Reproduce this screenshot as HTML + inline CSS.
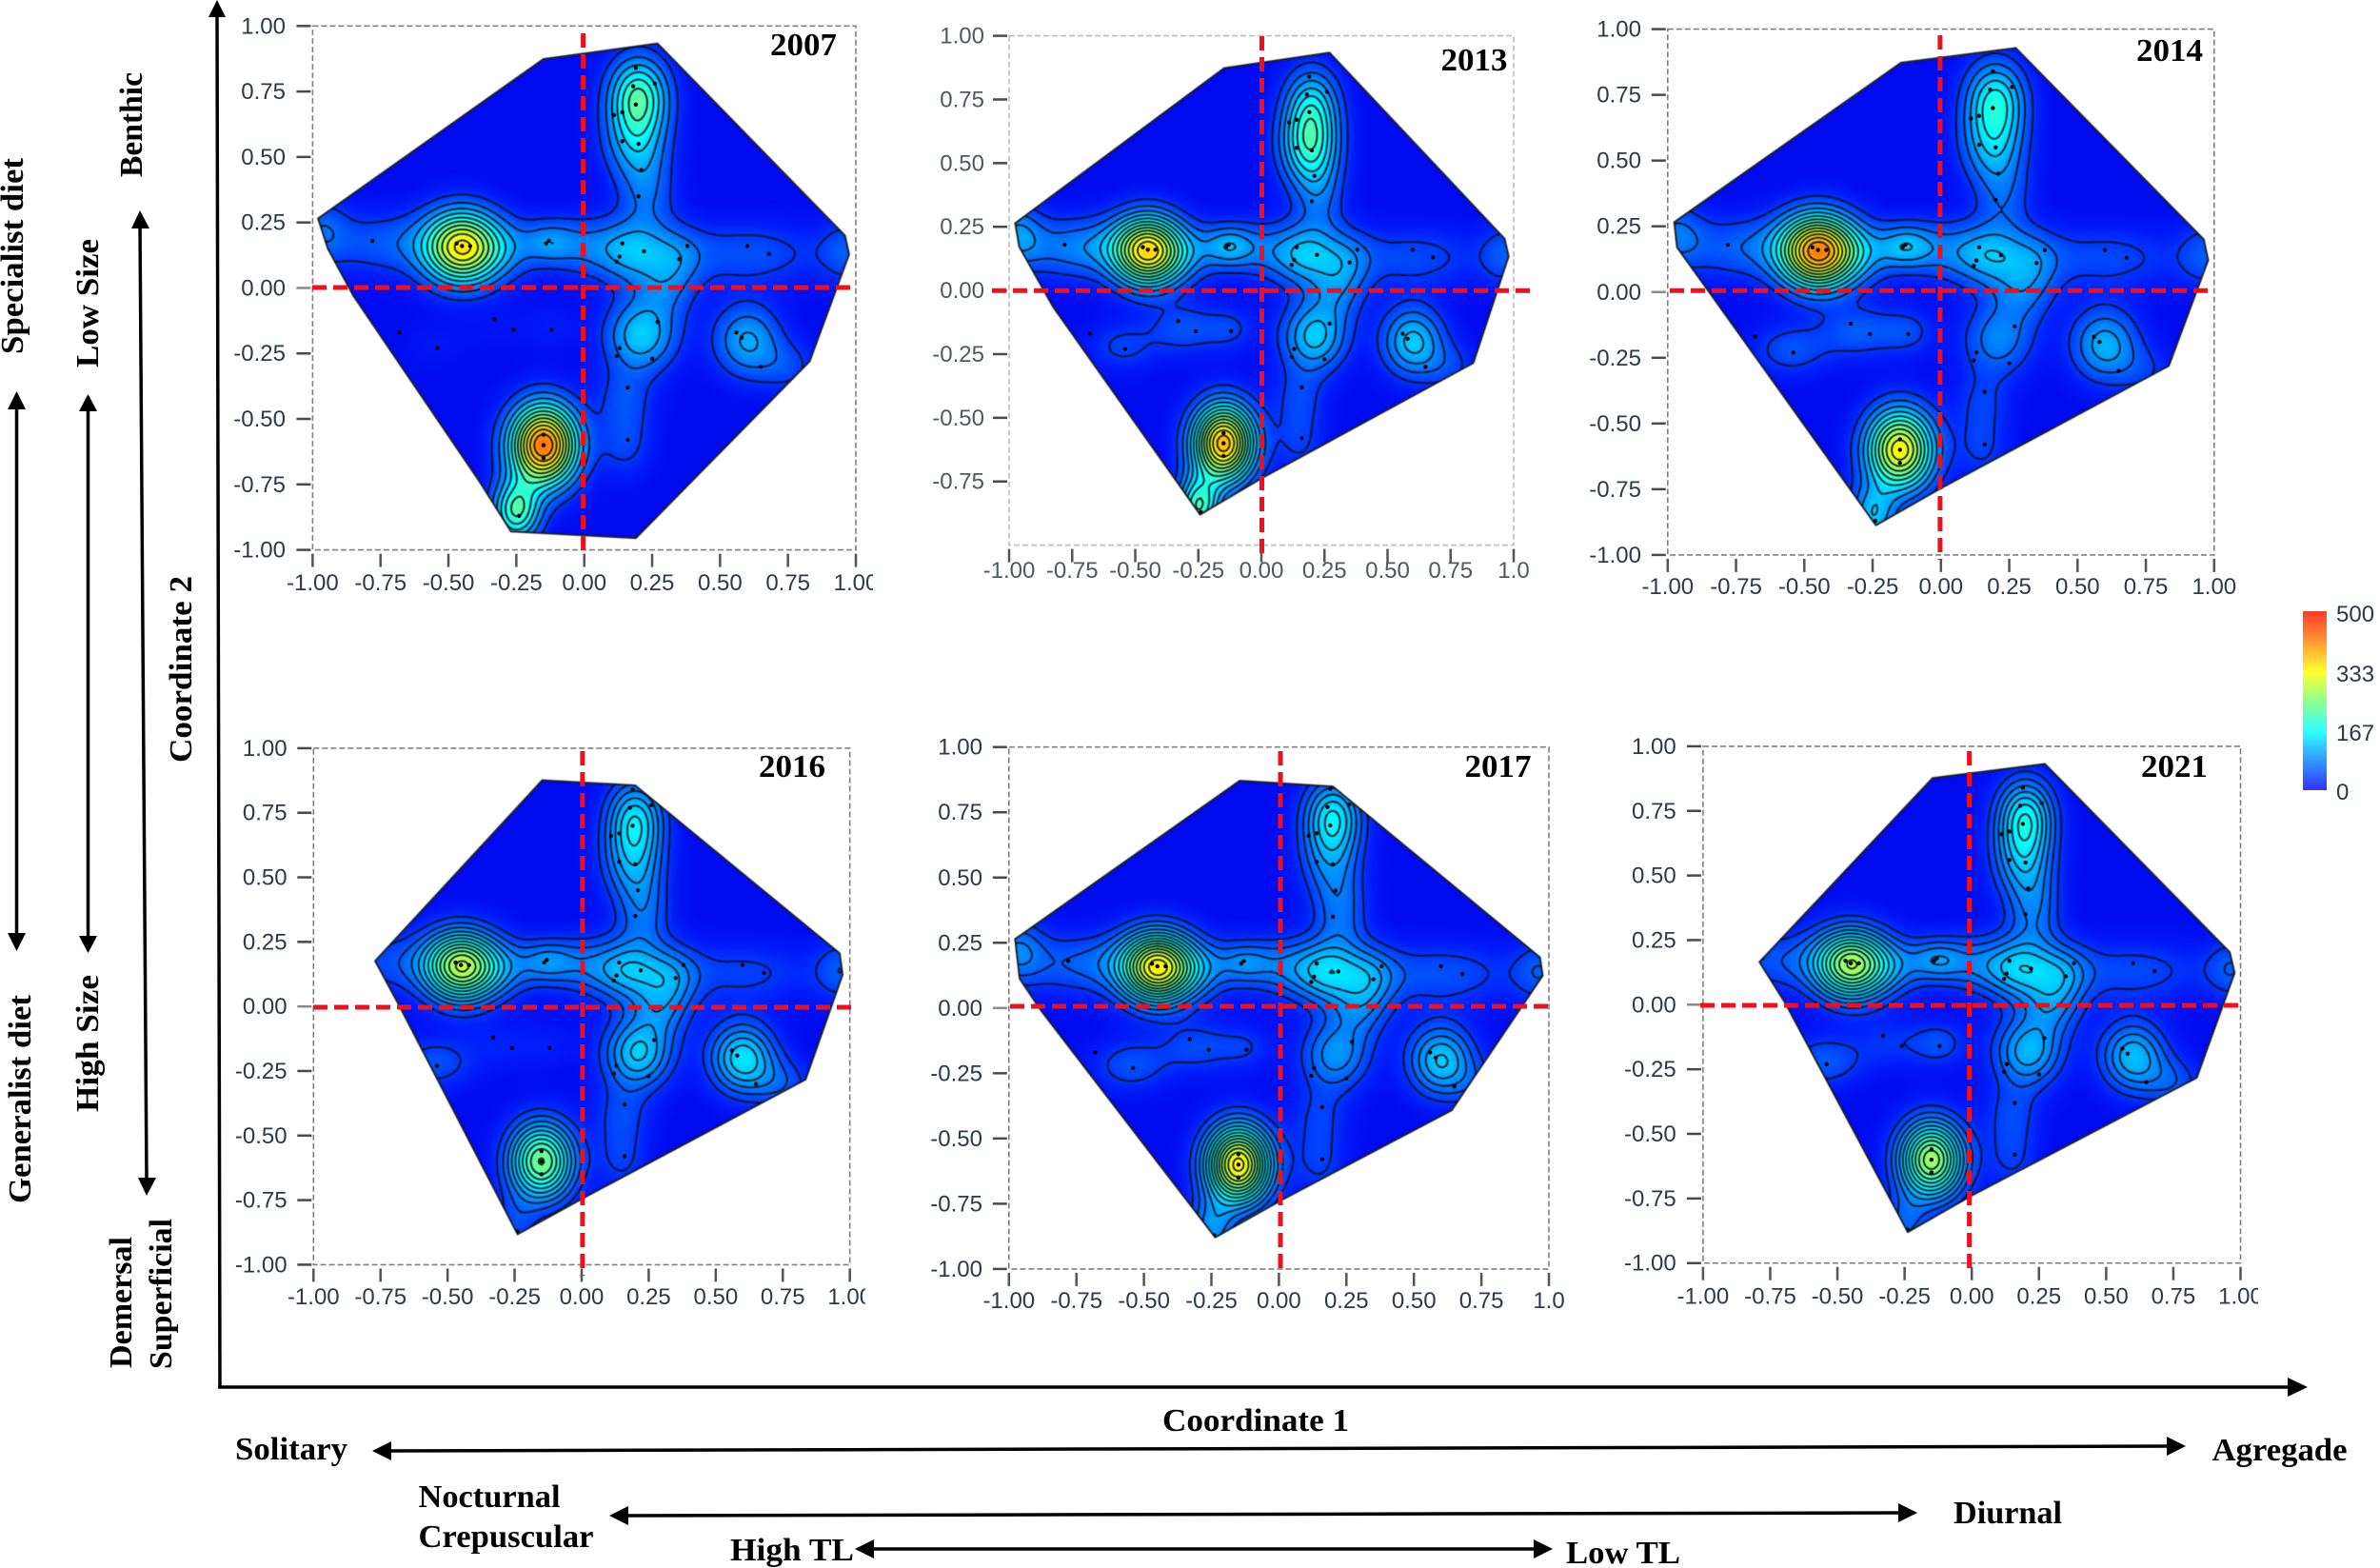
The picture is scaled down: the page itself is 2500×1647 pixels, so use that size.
<!DOCTYPE html>
<html lang="en">
<head>
<meta charset="utf-8">
<title>Kernel density functional space by year</title>
<style>
html,body{margin:0;padding:0;background:#fff;}
#stage{position:relative;width:2500px;height:1647px;overflow:hidden;background:#fff;}
#heat,#overlay{position:absolute;left:0;top:0;}
.serif{font-family:"Liberation Serif",serif;font-weight:bold;font-size:34px;fill:#000;}
.tick{font-family:"Liberation Sans",sans-serif;font-size:24px;fill:#2c3a48;}
</style>
</head>
<body>
<div id="stage">
<canvas id="heat" width="2500" height="1647"></canvas>
<svg id="overlay" width="2500" height="1647" viewBox="0 0 2500 1647" xmlns="http://www.w3.org/2000/svg">
<defs>
<linearGradient id="cbar" x1="0" y1="0" x2="0" y2="1">
<stop offset="0" stop-color="#ff3a30"/><stop offset="0.17" stop-color="#ff9a30"/><stop offset="0.34" stop-color="#ffff30"/><stop offset="0.5" stop-color="#90ff90"/><stop offset="0.67" stop-color="#30ffff"/><stop offset="0.85" stop-color="#3090ff"/><stop offset="1" stop-color="#3030ff"/>
</linearGradient>
<filter id="soft" x="-5%" y="-5%" width="110%" height="110%"><feGaussianBlur stdDeviation="0.55"/></filter>
</defs>
<g id="panels"></g>

<g stroke="#000" fill="#000">
<line x1="228" y1="14" x2="231" y2="1458" stroke-width="3.5"/>
<polygon points="228,0 219,18 237,18" stroke="none"/>
<line x1="229" y1="1457" x2="2405" y2="1457" stroke-width="3.5"/>
<polygon points="2424,1457 2403,1447 2403,1467" stroke="none"/>
</g>

<g stroke="#000" fill="#000">
<g><line x1="17.5" y1="425" x2="17.5" y2="985" stroke-width="3.5"/><polygon points="17.5,411 8,430 27,430" stroke="none"/><polygon points="17.5,999 8,980 27,980" stroke="none"/></g>
<g><line x1="92.5" y1="425" x2="92.5" y2="985" stroke-width="3.5"/><polygon points="92.5,414 83,432 102,432" stroke="none"/><polygon points="92.5,1001 83,983 102,983" stroke="none"/></g>
<g><line x1="147" y1="235" x2="154" y2="1240" stroke-width="3.5"/><polygon points="147,221 138,240 157,240" stroke="none"/><polygon points="154,1256 145,1237 164,1237" stroke="none"/></g>
<g><line x1="405" y1="1524" x2="2282" y2="1519" stroke-width="3.5"/><polygon points="391,1524 411,1514 411,1534" stroke="none"/><polygon points="2296,1519 2276,1509 2276,1529" stroke="none"/></g>
<g><line x1="655" y1="1592" x2="2000" y2="1589" stroke-width="3.5"/><polygon points="640,1592 660,1582 660,1602" stroke="none"/><polygon points="2014,1589 1994,1579 1994,1599" stroke="none"/></g>
<g><line x1="912" y1="1627" x2="1617" y2="1627" stroke-width="3.5"/><polygon points="898,1627 918,1617 918,1637" stroke="none"/><polygon points="1631,1627 1611,1617 1611,1637" stroke="none"/></g>
</g>

<g>
<text class="serif" transform="translate(24,372) rotate(-90)" textLength="206" lengthAdjust="spacingAndGlyphs">Specialist diet</text>
<text class="serif" transform="translate(32,1264) rotate(-90)" textLength="219" lengthAdjust="spacingAndGlyphs">Generalist diet</text>
<text class="serif" transform="translate(103,386) rotate(-90)" textLength="135" lengthAdjust="spacingAndGlyphs">Low Size</text>
<text class="serif" transform="translate(103,1168) rotate(-90)" textLength="144" lengthAdjust="spacingAndGlyphs">High Size</text>
<text class="serif" transform="translate(149,186) rotate(-90)" textLength="110" lengthAdjust="spacingAndGlyphs">Benthic</text>
<text class="serif" transform="translate(138,1437) rotate(-90)" textLength="138" lengthAdjust="spacingAndGlyphs">Demersal</text>
<text class="serif" transform="translate(180,1438) rotate(-90)" textLength="158" lengthAdjust="spacingAndGlyphs">Superficial</text>
<text class="serif" transform="translate(201,801) rotate(-90)" textLength="196" lengthAdjust="spacingAndGlyphs">Coordinate 2</text>
<text class="serif" x="1221" y="1503" textLength="196" lengthAdjust="spacingAndGlyphs">Coordinate 1</text>
<text class="serif" x="247" y="1533" textLength="118" lengthAdjust="spacingAndGlyphs">Solitary</text>
<text class="serif" x="2323.5" y="1534" textLength="142" lengthAdjust="spacingAndGlyphs">Agregade</text>
<text class="serif" x="439.5" y="1583" textLength="149" lengthAdjust="spacingAndGlyphs">Nocturnal</text>
<text class="serif" x="439.5" y="1625" textLength="184" lengthAdjust="spacingAndGlyphs">Crepuscular</text>
<text class="serif" x="2052" y="1600" textLength="114" lengthAdjust="spacingAndGlyphs">Diurnal</text>
<text class="serif" x="767" y="1639" textLength="130" lengthAdjust="spacingAndGlyphs">High TL</text>
<text class="serif" x="1645" y="1642" textLength="120" lengthAdjust="spacingAndGlyphs">Low TL</text>
</g>

<g>
<rect x="2419" y="642" width="25" height="188" fill="url(#cbar)"/>
<text class="tick" x="2454" y="653">500</text>
<text class="tick" x="2454" y="716">333</text>
<text class="tick" x="2454" y="778">167</text>
<text class="tick" x="2454" y="840">0</text>
</g>
</svg>
</div>

<script>
/* ---------- chart data ---------- */
const years = [2007, 2013, 2014, 2016, 2017, 2021];
const xTickValues = [-1, -0.75, -0.5, -0.25, 0, 0.25, 0.5, 0.75, 1];
const yTickValues = [1, 0.75, 0.5, 0.25, 0, -0.25, -0.5, -0.75, -1];
const contourStart = 45;
const contourStepByYear = [33, 27, 30, 22, 22, 21];
const backgroundDensity = 10;

/* density clusters: centre and kernel bandwidth in coordinate space */
const clusterX = [-0.45,-0.13,0.17,0.20,0.19,0.21,0.60,-0.15,-0.25,-0.72,-0.29,0.00,0.60,0.97,-0.97,0.23,0.30,0.34,-0.30,-0.55,-0.12,0.15,0.15,0.75];
const clusterY = [0.155,0.175,0.14,0.74,0.57,-0.18,-0.20,-0.60,-0.85,0.17,0.15,0.16,0.13,0.14,0.22,0.36,0.00,0.13,-0.15,-0.22,-0.15,-0.42,-0.60,-0.30];
const bandwidthX = [0.095,0.07,0.09,0.075,0.08,0.09,0.085,0.085,0.06,0.17,0.09,0.09,0.20,0.07,0.07,0.07,0.08,0.075,0.10,0.10,0.07,0.075,0.07,0.08];
const bandwidthY = [0.095,0.06,0.085,0.10,0.11,0.095,0.095,0.105,0.08,0.085,0.08,0.08,0.085,0.085,0.085,0.11,0.085,0.08,0.07,0.07,0.06,0.09,0.09,0.07];

/* density of each cluster per year */
const density2007 = [320,70,100,180,110,125,105,430,200,55,50,55,50,50,55,60,55,50,8,10,15,45,40,40];
const density2013 = [325,90,105,110,170,125,125,375,190,80,50,50,45,50,80,55,60,50,50,40,35,40,35,35];
const density2014 = [395,95,100,140,110,80,110,325,115,60,60,55,45,50,60,50,60,50,55,50,40,35,35,30];
const density2016 = [260,65,100,115,95,125,140,235,40,45,55,55,40,50,40,60,65,55,20,50,15,40,35,45];
const density2017 = [310,60,115,130,70,90,125,330,85,60,55,55,50,50,70,60,60,60,45,50,30,35,35,30];
const density2021 = [245,70,110,130,100,110,115,260,55,50,55,55,45,50,40,65,65,60,30,55,45,40,35,45];
const densityByYear = [density2007, density2013, density2014, density2016, density2017, density2021];

/* species points */
const speciesX = [-0.78,-0.13,-0.14,0.14,0.13,0.12,0.22,0.38,0.35,0.60,0.68,-0.33,-0.26,-0.12,-0.68,-0.54,0.20,0.21,0.16,0.16,0.25,0.13,0.12,0.27,0.56,0.58,0.65,0.19,0.26,0.18,0.19,0.14,0.11,0.14,0.20,-0.45,-0.42,-0.47,-0.15,-0.15,-0.15,-0.24];
const speciesY = [0.18,0.18,0.17,0.17,0.12,0.10,0.14,0.16,0.11,0.16,0.13,-0.12,-0.16,-0.16,-0.17,-0.23,0.35,0.45,-0.38,-0.58,-0.27,-0.23,-0.26,-0.13,-0.17,-0.19,-0.30,0.84,0.78,0.77,0.70,0.67,0.66,0.56,0.55,0.16,0.16,0.17,-0.56,-0.60,-0.65,-0.87];

/* convex hull per year */
const hullX2007 = [-0.98,-0.15,0.27,0.96,0.975,0.83,0.19,-0.27,-0.385,-0.85,-0.944];
const hullY2007 = [0.265,0.874,0.933,0.20,0.128,-0.28,-0.955,-0.93,-0.74,-0.03,0.15];
const hullX2013 = [-0.976,-0.148,0.27,0.964,0.98,0.84,0,-0.243,-0.826,-0.96];
const hullY2013 = [0.264,0.873,0.934,0.203,0.134,-0.285,-0.738,-0.88,-0.064,0.172];
const hullX2014 = [-0.976,-0.146,0.274,0.962,0.978,0.834,0,-0.238,-0.838,-0.966];
const hullY2014 = [0.266,0.872,0.928,0.20,0.121,-0.281,-0.746,-0.887,-0.015,0.17];
const hullX2016 = [-0.77,-0.147,0.20,0.962,0.973,0.835,0.006,-0.239,-0.68];
const hullY2016 = [0.176,0.876,0.856,0.206,0.123,-0.283,-0.742,-0.882,0.003];
const hullX2017 = [-0.977,-0.145,0.20,0.967,0.977,0.64,0.008,-0.236,-0.883,-0.96];
const hullY2017 = [0.264,0.871,0.849,0.194,0.124,-0.392,-0.737,-0.879,-0.007,0.112];
const hullX2021 = [-0.79,-0.146,0.272,0.96,0.978,0.837,0.003,-0.238,-0.695];
const hullY2021 = [0.165,0.877,0.932,0.203,0.123,-0.283,-0.737,-0.88,0.008];
const hullXByYear = [hullX2007, hullX2013, hullX2014, hullX2016, hullX2017, hullX2021];
const hullYByYear = [hullY2007, hullY2013, hullY2014, hullY2016, hullY2017, hullY2021];

/* ---------- panel layout (pixels, not data) ---------- */
const layout = [
 {l:328.4,r:899,t:27.3,b:577.6,cx:612.6,cy:302,vt:35,vb:583,hl:328,hr:899,lab:620,yr:300,clip:917,title:[809,58],box:'#808080',text:'#2c3a48',last:'1.00',skipBottom:false},
 {l:1060,r:1590,t:37.6,b:572.6,cx:1325.5,cy:305.3,vt:38,vb:586,hl:1042,hr:1611,lab:607,yr:1034,clip:1640,title:[1513.5,74],box:'#bdbdbd',text:'#505860',last:'1.0',skipBottom:true},
 {l:1751.8,r:2325.8,t:30.6,b:582.9,cx:2037.9,cy:305.3,vt:37,vb:588,hl:1754,hr:2323,lab:624,yr:1724,clip:2380,title:[2244,64],box:'#808080',text:'#2c3a48',last:'1.00',skipBottom:false},
 {l:329.3,r:892.7,t:785.9,b:1328.4,cx:611.9,cy:1058,vt:789,vb:1340,hl:329,hr:898,lab:1370,yr:301.6,clip:908.7,title:[797,816],box:'#808080',text:'#2c3a48',last:'1.00',skipBottom:false},
 {l:1059.8,r:1627,t:784.7,b:1332.9,cx:1345,cy:1057,vt:789,vb:1338,hl:1061,hr:1630,lab:1374,yr:1032,clip:1660,title:[1538.5,816],box:'#808080',text:'#2c3a48',last:'1.0',skipBottom:false},
 {l:1788.9,r:2353.5,t:783.9,b:1326.7,cx:2068.6,cy:1056,vt:789,vb:1336,hl:1786,hr:2355,lab:1369.5,yr:1760.7,clip:2372,title:[2249,816],box:'#808080',text:'#2c3a48',last:'1.00',skipBottom:false}
];

const SVGNS = 'http://www.w3.org/2000/svg';
function make(tag, attrs, parent, text){
  const el = document.createElementNS(SVGNS, tag);
  for (const k in attrs) el.setAttribute(k, attrs[k]);
  if (text !== undefined) el.textContent = text;
  parent.appendChild(el);
  return el;
}

/* ---------- scales and density field ---------- */
function xScale(f, v){ return f.l + (v + 1) / 2 * (f.r - f.l); }
function yScale(f, v){ return f.t + (1 - v) / 2 * (f.b - f.t); }
function xInverse(f, px){ return (px - f.l) / (f.r - f.l) * 2 - 1; }
function yInverse(f, py){ return 1 - (py - f.t) / (f.b - f.t) * 2; }

function fieldAt(d, x, y){
  let v = backgroundDensity;
  for (let i = 0; i < clusterX.length; i++){
    const dx = (x - clusterX[i]) / bandwidthX[i];
    const dy = (y - clusterY[i]) / bandwidthY[i];
    const e = dx * dx + dy * dy;
    if (e < 30) v += d[i] * Math.exp(-0.5 * e);
  }
  return v;
}

const rampStops = [0, 30, 167, 250, 333, 420, 500];
const rampR = [0, 0, 0, 128, 255, 255, 255];
const rampG = [0, 30, 255, 255, 255, 140, 30];
const rampB = [232, 250, 255, 128, 0, 0, 0];
function ramp(v){
  if (v >= 500) return [rampR[6], rampG[6], rampB[6]];
  let i = 0;
  while (i < rampStops.length - 2 && v > rampStops[i + 1]) i++;
  const t = Math.max(0, (v - rampStops[i]) / (rampStops[i + 1] - rampStops[i]));
  return [rampR[i] + (rampR[i+1]-rampR[i])*t, rampG[i] + (rampG[i+1]-rampG[i])*t, rampB[i] + (rampB[i+1]-rampB[i])*t];
}

/* ---------- heatmap ---------- */
function drawHeat(ctx, f, d, hx, hy){
  const step = 2;
  const w = Math.ceil((f.r - f.l) / step), h = Math.ceil((f.b - f.t) / step);
  const off = document.createElement('canvas');
  off.width = w; off.height = h;
  const oc = off.getContext('2d');
  const img = oc.createImageData(w, h);
  for (let j = 0; j < h; j++){
    const y = yInverse(f, f.t + (j + 0.5) * step);
    for (let i = 0; i < w; i++){
      const x = xInverse(f, f.l + (i + 0.5) * step);
      const c = ramp(fieldAt(d, x, y));
      const o = (j * w + i) * 4;
      img.data[o] = c[0]; img.data[o+1] = c[1]; img.data[o+2] = c[2]; img.data[o+3] = 255;
    }
  }
  oc.putImageData(img, 0, 0);
  ctx.save();
  ctx.beginPath();
  hx.forEach(function(vx, i){
    const px = xScale(f, vx), py = yScale(f, hy[i]);
    if (i === 0) ctx.moveTo(px, py); else ctx.lineTo(px, py);
  });
  ctx.closePath();
  ctx.clip();
  ctx.imageSmoothingEnabled = true;
  ctx.drawImage(off, f.l, f.t, w * step, h * step);
  ctx.restore();
}

/* ---------- marching-squares contours ---------- */
function contourPath(grid, nx, ny, ox, oy, step, level){
  const parts = [];
  const lerp = function(a, b){ return (level - a) / (b - a); };
  for (let j = 0; j < ny - 1; j++){
    for (let i = 0; i < nx - 1; i++){
      const a = grid[j*nx+i], b = grid[j*nx+i+1], c = grid[(j+1)*nx+i+1], e = grid[(j+1)*nx+i];
      const x0 = ox + i*step, y0 = oy + j*step;
      const top = (a<level)!==(b<level) ? [x0+lerp(a,b)*step, y0] : null;
      const right = (b<level)!==(c<level) ? [x0+step, y0+lerp(b,c)*step] : null;
      const bottom = (e<level)!==(c<level) ? [x0+lerp(e,c)*step, y0+step] : null;
      const left = (a<level)!==(e<level) ? [x0, y0+lerp(a,e)*step] : null;
      const pts = [top, right, bottom, left].filter(Boolean);
      if (pts.length === 2){
        parts.push('M'+pts[0][0].toFixed(1)+' '+pts[0][1].toFixed(1)+'L'+pts[1][0].toFixed(1)+' '+pts[1][1].toFixed(1));
      } else if (pts.length === 4){
        parts.push('M'+top[0].toFixed(1)+' '+top[1].toFixed(1)+'L'+left[0].toFixed(1)+' '+left[1].toFixed(1));
        parts.push('M'+bottom[0].toFixed(1)+' '+bottom[1].toFixed(1)+'L'+right[0].toFixed(1)+' '+right[1].toFixed(1));
      }
    }
  }
  return parts.join('');
}

/* ---------- build panels ---------- */
const heatCtx = document.getElementById('heat').getContext('2d');
const panelsRoot = document.getElementById('panels');
const defsEl = document.querySelector('#overlay defs');

years.forEach(function(year, idx){
  const f = layout[idx], d = densityByYear[idx], hx = hullXByYear[idx], hy = hullYByYear[idx];
  drawHeat(heatCtx, f, d, hx, hy);

  const pts = hx.map(function(v, i){ return xScale(f, v).toFixed(1)+','+yScale(f, hy[i]).toFixed(1); }).join(' ');
  const cp = make('clipPath', {id:'hull-'+year}, defsEl);
  make('polygon', {points:pts}, cp);
  const lc = make('clipPath', {id:'labels-'+year}, defsEl);
  make('rect', {x:f.l-120, y:f.t-40, width:f.clip-f.l+120, height:f.b-f.t+110}, lc);

  const g = make('g', {}, panelsRoot);
  
  

  /* frame */
  const box = make('rect', {x:f.l, y:f.t, width:f.r-f.l, height:f.b-f.t, fill:'none', stroke:f.box, 'stroke-width':1.6, 'stroke-dasharray':'6 3'}, g);
  
  

  /* contours */
  const step = 3;
  const nx = Math.ceil((f.r-f.l)/step)+1, ny = Math.ceil((f.b-f.t)/step)+1;
  const grid = new Float64Array(nx*ny);
  for (let j = 0; j < ny; j++){
    for (let i = 0; i < nx; i++){
      grid[j*nx+i] = fieldAt(d, xInverse(f, f.l+i*step), yInverse(f, f.t+j*step));
    }
  }
  const cg = make('g', {'clip-path':'url(#hull-'+year+')', fill:'none', stroke:'#06101c', 'stroke-width':1.7, 'stroke-linecap':'round', filter:'url(#soft)'}, g);
  
  
  for (let lv = contourStart; lv < 500; lv += contourStepByYear[idx]){
    const dStr = contourPath(grid, nx, ny, f.l, f.t, step, lv);
    if (!dStr) continue;
    const p = make('path', {d:dStr}, cg);
    
    
  }

  /* hull outline */
  const hull = make('polygon', {points:pts, fill:'none', stroke:'#15181f', 'stroke-width':1.8, filter:'url(#soft)'}, g);
  
  

  /* species points */
  const sg = make('g', {'clip-path':'url(#hull-'+year+')', fill:'#06080c'}, g);
  
  
  speciesX.forEach(function(sx, i){
    const c = make('circle', {cx:xScale(f, sx), cy:yScale(f, speciesY[i]), r:2.2}, sg);
    
    
  });

  /* ticks and tick labels */
  const tg = make('g', {'clip-path':'url(#labels-'+year+')'}, g);
  
  
  yTickValues.forEach(function(v){
    if (f.skipBottom && v === -1) return;
    const py = yScale(f, v);
    const t = make('line', {x1:f.l-17, x2:f.l-2, y1:py, y2:py, stroke:(v===0?'#8a8a8a':'#4a4a4a'), 'stroke-width':2.5}, tg);
    
    
    const lb = make('text', {x:f.yr, y:py+8, 'text-anchor':'end', class:'tick', style:'fill:'+f.text}, tg, v.toFixed(2));
    
    
  });
  xTickValues.forEach(function(v){
    const px = xScale(f, v);
    const t = make('line', {x1:px, x2:px, y1:f.b+4, y2:f.b+18, stroke:'#555', 'stroke-width':2.5}, tg);
    
    
    const txt = v === 1 ? f.last : v.toFixed(2);
    const lb = make('text', {x:px, y:f.lab, 'text-anchor':'middle', class:'tick', style:'fill:'+f.text}, tg, txt);
    
    
  });

  /* zero reference lines */
  const hz = make('line', {x1:f.hl, x2:f.hr, y1:f.cy, y2:f.cy, stroke:'#f0101c', 'stroke-width':5, 'stroke-dasharray':'15 7'}, g);
  
  
  const vt = make('line', {x1:f.cx, x2:f.cx, y1:f.vt, y2:f.vb, stroke:'#f0101c', 'stroke-width':5, 'stroke-dasharray':'15 7'}, g);
  
  

  /* year title */
  const title = make('text', {x:f.title[0], y:f.title[1], class:'serif', textLength:70, lengthAdjust:'spacingAndGlyphs'}, g, String(year));
  
  
});
</script>
</body>
</html>
